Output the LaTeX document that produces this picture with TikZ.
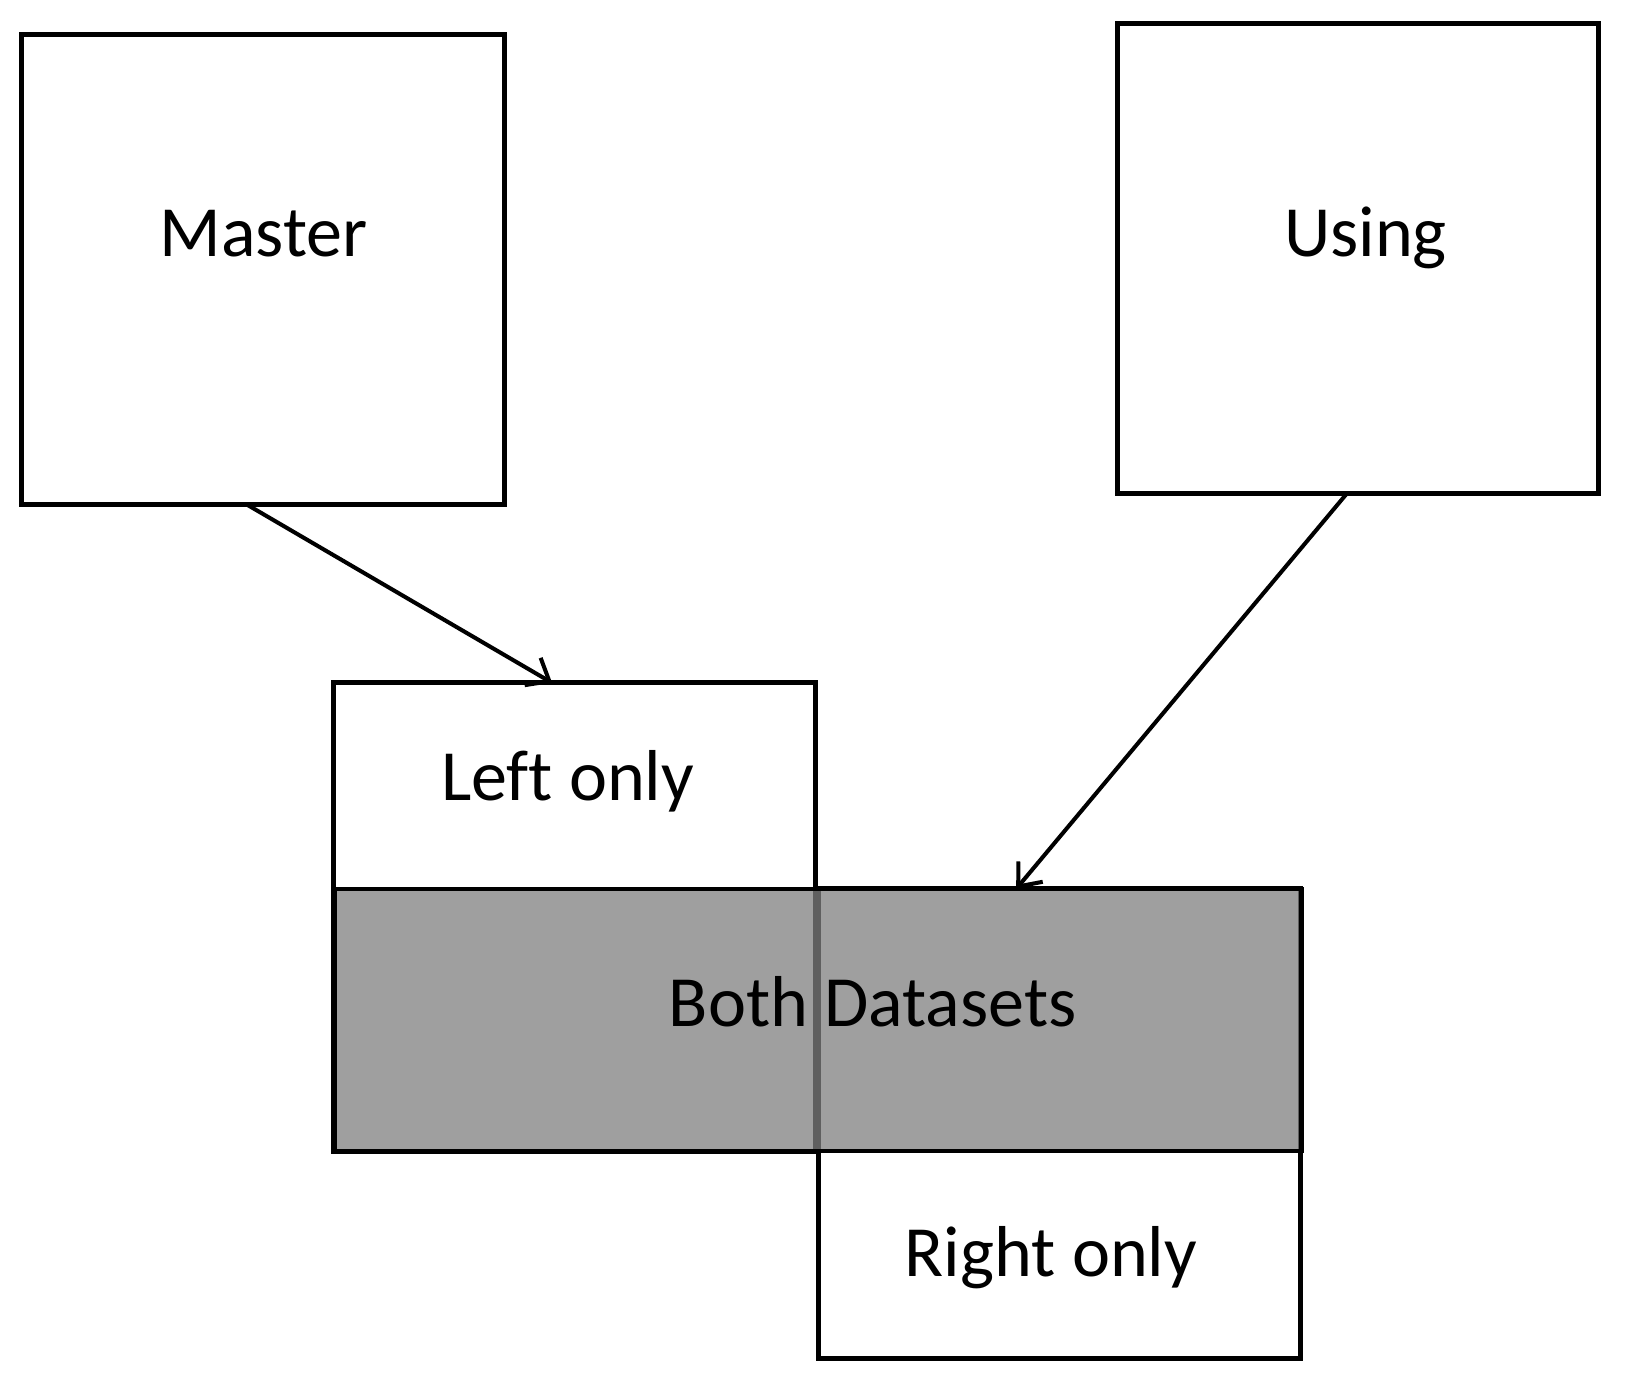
\documentclass[tikz,border=0pt]{standalone}
\usepackage{fontspec}
\setmainfont{Carlito}[Ligatures=NoCommon]
\usetikzlibrary{arrows.meta,calc}
\begin{document}
\begin{tikzpicture}[x=0.01cm,y=-0.01cm,
  box/.style={draw=black,line width=1.35pt,fill=white,inner sep=0pt,outer sep=0pt},
  both/.style={fill=black!50,fill opacity=0.75,draw=none,inner sep=0pt,outer sep=0pt},
  lbl/.style={anchor=base,inner sep=0pt,font=\fontsize{20.5}{24}\selectfont},
  conn/.style={line width=1.15pt,-{Straight Barb[length=5.5pt,width=9pt,line width=1.15pt]}}]
\useasboundingbox (0,0) rectangle (1627,1383);
% boxes
\node[box,minimum width=4.82cm,minimum height=4.69cm] (master) at (263,269.5) {};
\node[box,minimum width=4.805cm,minimum height=4.69cm] (using) at (1357.75,258.5) {};
\node[box,minimum width=4.815cm,minimum height=4.68cm] (left) at (574.75,917) {};
\node[box,minimum width=4.81cm,minimum height=4.69cm] (right) at (1059.5,1123.5) {};
\node[both,minimum width=9.66cm,minimum height=2.62cm] (both) at (818,1020) {};
\draw[line width=1.35pt] (both.north west) rectangle (both.south east);
% labels
\node[lbl] (tmaster) at (263.5,256.3) {Master};
\node[lbl] (tusing) at (1365.5,256.3) {Using};
\node[lbl] (tleft) at (567.6,801) {Left only};
\node[lbl] (tboth) at (872.6,1027) {Both Datasets};
\node[lbl] (tright) at (1051,1276) {Right only};
% connector end points
\coordinate (mS) at ($(master.south west)!0.465!(master.south east)$);
\coordinate (lN) at ($(left.north west)!0.453!(left.north east)$);
\coordinate (uS) at ($(using.south west)!0.478!(using.south east)$);
\coordinate (bN) at ($(both.north west)!0.705!(both.north east)$);
\draw[conn] (mS) -- (lN);
\draw[conn] (uS) -- (bN);
\end{tikzpicture}
\end{document}
